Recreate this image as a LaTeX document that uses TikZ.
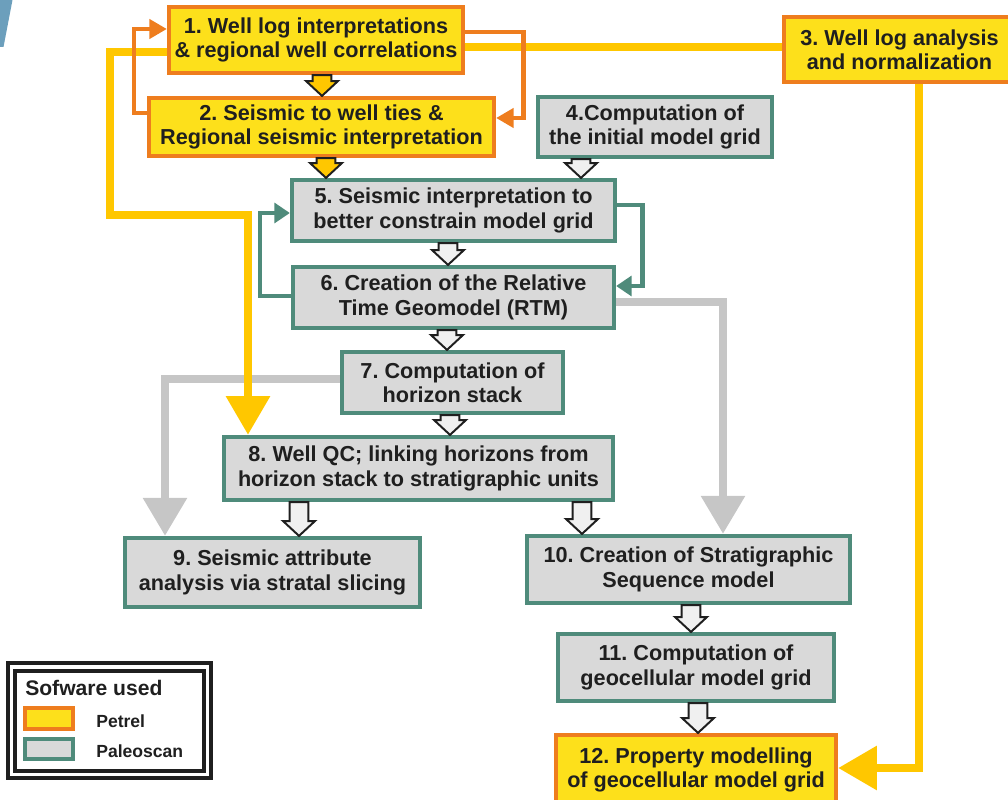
\documentclass[tikz,border=0pt]{standalone}
\usepackage{fontspec}
\setmainfont{Liberation Sans}
\usetikzlibrary{arrows.meta,calc,backgrounds}
\frenchspacing

\definecolor{petrelfill}{HTML}{FDE01B}
\definecolor{petrelline}{HTML}{EE7D1E}
\definecolor{paleofill}{HTML}{D9D9D9}
\definecolor{paleoline}{HTML}{4F8B7B}
\definecolor{flowyellow}{HTML}{FFC700}
\definecolor{flowgray}{HTML}{C6C6C6}
\definecolor{inkdark}{HTML}{1F1F1F}
\definecolor{hollowfill}{HTML}{F0F0F0}
\definecolor{edgeblue}{HTML}{6C9FBC}

\newcommand{\px}{0.025cm}
% hollow block arrow straight down, from node #2 to node #3 at column x=#4
\newcommand{\blockdown}[4][hollowfill]{%
  \draw[hollow,fill=#1] let \p1=(#2.south), \p2=(#3.north), \p3=(#4,0) in
    (\x3-6.6pt,\y1) -- (\x3+6.6pt,\y1) -- (\x3+6.6pt,\y2+10.5pt) -- (\x3+11.3pt,\y2+10.5pt)
    -- (\x3,\y2) -- (\x3-11.3pt,\y2+10.5pt) -- (\x3-6.6pt,\y2+10.5pt) -- cycle;}

\begin{document}
\begin{tikzpicture}[x=\px,y=-\px,
    box/.style={draw,line width=3pt,align=center,inner sep=0pt,text=inkdark,
      font=\fontsize{15.4}{17.3}\selectfont\bfseries},
    boxsize/.style 2 args={minimum width=#1*\px,minimum height=#2*\px},
    petrel/.style={box,fill=petrelfill,draw=petrelline},
    paleo/.style={box,fill=paleofill,draw=paleoline},
    hollow/.style={draw=inkdark,line width=1.4pt,line join=miter},
    orangeflow/.style={draw=petrelline,line width=3.4pt,-{Triangle[length=12.5pt,width=13.5pt]}},
    tealflow/.style={draw=paleoline,line width=3.4pt,-{Triangle[length=11pt,width=14pt]}},
    yellowflow/.style={draw=flowyellow,line width=5.9pt,-{Triangle[length=27.5pt,width=30pt]}},
    grayflow/.style={draw=flowgray,line width=5.9pt,-{Triangle[length=27pt,width=30pt]}},
    keytext/.style={anchor=west,inner sep=0pt,text=inkdark}]

  \useasboundingbox (0,0) rectangle (1008,800);
  \clip (0,0) rectangle (1008,800);

  \fill[edgeblue] (0,0) -- (12.5,0) -- (3.5,47) -- (0,47) -- cycle;

  % workflow steps
  \node[petrel,boxsize={294}{66}] (s1) at (316,40) {1. Well log interpretations\\\& regional well correlations};
  \node[petrel,boxsize={345}{58}] (s2) at (321.5,127) {2. Seismic to well ties \&\\Regional seismic interpretation};
  \node[petrel,boxsize={231}{65}] (s3) at (899.5,49.5) {3. Well log analysis\\and normalization};
  \node[paleo,boxsize={234}{60}] (s4) at (655,127) {4.Computation of\\the initial model grid};
  \node[paleo,boxsize={323}{61}] (s5) at (453.5,210.5) {5. Seismic interpretation to\\better constrain model grid};
  \node[paleo,boxsize={321}{61}] (s6) at (453.5,297.5) {6. Creation of the Relative\\Time Geomodel (RTM)};
  \node[paleo,boxsize={221}{61}] (s7) at (452.5,382.5) {7. Computation of\\horizon stack};
  \node[paleo,boxsize={389}{63}] (s8) at (418.5,468.5) {8. Well QC; linking horizons from\\horizon stack to stratigraphic units};
  \node[paleo,boxsize={295}{69}] (s9) at (272.5,572.5) {9. Seismic attribute\\analysis via stratal slicing};
  \node[paleo,boxsize={323}{67}] (s10) at (688.5,569.5) {10. Creation of Stratigraphic\\Sequence model};
  \node[paleo,boxsize={276}{67}] (s11) at (696,667.5) {11. Computation of\\geocellular model grid};
  \node[petrel,boxsize={280}{70}] (s12) at (696,770) {12. Property modelling\\of geocellular model grid};

  % columns of the long flow lines
  \coordinate (ycolA) at (248,0);
  \coordinate (ycolB) at (919,0);
  \coordinate (gcolA) at (165,0);
  \coordinate (gcolB) at (723,0);

  \begin{pgfonlayer}{background}
    \draw[grayflow] ($(s7.west)+(0,-3.5)$) -| (gcolA |- s9.north);
    \draw[grayflow] ($(s6.east)+(0,4.5)$) -| (gcolB |- s10.north);
    \draw[yellowflow] ($(s3.west)+(0,-2.5)$) -- (316,47) -- (316,52) -- (110,52)
      -- (110,215) -- (248,215) -- (ycolA |- s8.north);
    \draw[yellowflow] (ycolB |- s3.south) |- ($(s12.east)+(0,-2)$);
    \draw[orangeflow] ($(s2.west)+(0,-14)$) -- ++(-13,0) |- ($(s1.west)+(0,-11)$);
    \draw[orangeflow] ($(s1.east)+(0,-8)$) -- ++(58,0) |- ($(s2.east)+(0,-9)$);
    \draw[tealflow] ($(s6.west)+(0,-1.5)$) -- ++(-31,0) |- ($(s5.west)+(0,2.5)$);
    \draw[tealflow] ($(s5.east)+(0,-5.5)$) -- ++(25,0) |- ($(s6.east)+(0,-11.5)$);
  \end{pgfonlayer}

  \blockdown[flowyellow]{s1}{s2}{322}
  \blockdown[flowyellow]{s2}{s5}{326}
  \blockdown{s4}{s5}{581}
  \blockdown{s5}{s6}{448}
  \blockdown{s6}{s7}{447}
  \blockdown{s7}{s8}{450}
  \blockdown{s8}{s9}{299}
  \blockdown{s8}{s10}{582}
  \blockdown{s10}{s11}{691}
  \blockdown{s11}{s12}{698}

  % legend
  \node[draw=inkdark,line width=2.2pt,boxsize={203}{115}] (keyouter) at (109.5,720.5) {};
  \node[draw=inkdark,line width=2.2pt,boxsize={189}{100}] (keyinner) at (109.5,721) {};
  \node[keytext,font=\fontsize{15}{17}\selectfont\bfseries] (keytitle) at (25,688) {Sofware used};
  \node[petrel,line width=2.2pt,boxsize={48}{21}] (keypetrel) at (49,718.5) {};
  \node[paleo,line width=2.2pt,boxsize={48}{20}] (keypaleo) at (49,749) {};
  \node[keytext,font=\fontsize{12.5}{14}\selectfont\bfseries] (lblpetrel) at (96,721) {Petrel};
  \node[keytext,font=\fontsize{12.5}{14}\selectfont\bfseries] (lblpaleo) at (96,751) {Paleoscan};
\end{tikzpicture}
\end{document}
